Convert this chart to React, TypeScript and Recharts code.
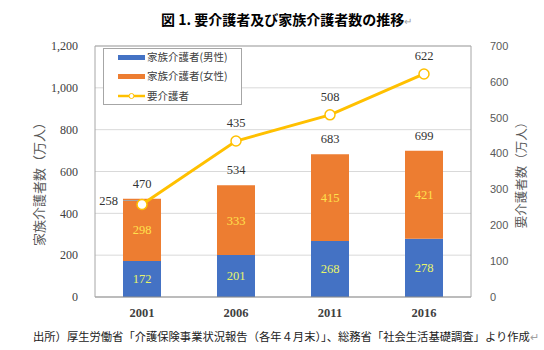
import React from 'react';
import {
  ComposedChart,
  Bar,
  Line,
  XAxis,
  YAxis,
  CartesianGrid,
  Legend,
  LabelList,
  ReferenceLine,
} from 'recharts';

// 単位: 万人
const years = ['2001', '2006', '2011', '2016'];
const maleCarers = [172, 201, 268, 278];
const femaleCarers = [298, 333, 415, 421];
const totalCarers = [470, 534, 683, 699];
const careRecipients = [258, 435, 508, 622];
const leftTicks = [0, 200, 400, 600, 800, 1000, 1200];
const rightTicks = [0, 100, 200, 300, 400, 500, 600, 700];

const seriesNames = ['家族介護者(男性)', '家族介護者(女性)', '要介護者'];
const BLUE = '#4472c4';
const ORANGE = '#ed7d31';
const YELLOW = '#ffc000';

const data = years.map((year, i) => ({
  year,
  male: maleCarers[i],
  female: femaleCarers[i],
  total: totalCarers[i],
  recipients: careRecipients[i],
}));

const SERIF = '"Liberation Serif", "DejaVu Serif", serif';
const JP = '"Noto Sans CJK JP", "Noto Sans", sans-serif';

const TotalLabel = (props: any) => {
  const { x, y, width, value } = props;
  return (
    <text x={x + width / 2} y={y - 11} textAnchor="middle" fontSize={12.5} fontFamily={SERIF} fill="#333">
      {value}
    </text>
  );
};

const RecipientLabel = (props: any) => {
  const { x, y, value, index } = props;
  if (index === 0) {
    return (
      <g>
        <line x1={x - 19} y1={y - 4} x2={x - 4} y2={y - 4} stroke="#a6a6a6" strokeWidth={1} />
        <text x={x - 24} y={y + 1} textAnchor="end" fontSize={12.5} fontFamily={SERIF} fill="#333">
          {value}
        </text>
      </g>
    );
  }
  return (
    <text x={x} y={y - 14} textAnchor="middle" fontSize={12.5} fontFamily={SERIF} fill="#333">
      {value}
    </text>
  );
};

const ChartLegend = () => (
  <div
    style={{
      width: 139,
      height: 57,
      boxSizing: 'border-box',
      border: '1px solid #a6a6a6',
      background: '#fff',
      position: 'relative',
      fontFamily: JP,
      fontSize: 10.5,
      color: '#404040',
    }}
  >
    {seriesNames.map((name, i) => {
      const cy = [8, 27, 47][i];
      return (
        <div key={name} style={{ position: 'absolute', left: 0, top: cy - 8, height: 16, width: 139 }}>
          {i < 2 ? (
            <div
              style={{
                position: 'absolute',
                left: 14,
                top: 6,
                width: 27,
                height: 5,
                background: i === 0 ? BLUE : ORANGE,
              }}
            />
          ) : (
            <svg style={{ position: 'absolute', left: 14, top: 3 }} width={27} height={10}>
              <line x1={0} y1={5} x2={27} y2={5} stroke={YELLOW} strokeWidth={2.5} />
              <circle cx={13.5} cy={5} r={2.5} fill="#fff" stroke={YELLOW} strokeWidth={1} />
            </svg>
          )}
          <span style={{ position: 'absolute', left: 43, top: 0, lineHeight: '16px', whiteSpace: 'nowrap' }}>
            {name}
          </span>
        </div>
      );
    })}
  </div>
);

export default function App() {
  return (
    <div style={{ position: 'absolute', left: 0, top: 0, width: 544, height: 350, background: '#fff' }}>
      <ComposedChart width={544} height={350} data={data} margin={{ top: 46, right: 0, bottom: 0, left: 0 }}>
        <CartesianGrid yAxisId="left" vertical={false} stroke="#d9d9d9" />
        <XAxis
          dataKey="year"
          height={53}
          tickLine={false}
          axisLine={{ stroke: '#8c8c8c' }}
          tickMargin={5}
          tick={{ fill: '#404040', fontSize: 12.5, fontFamily: SERIF, fontWeight: 'bold' }}
        />
        <YAxis
          yAxisId="left"
          width={95}
          domain={[0, 1200]}
          ticks={leftTicks}
          tickLine={false}
          axisLine={{ stroke: '#a6a6a6' }}
          tickMargin={11}
          tickFormatter={(v: number) => v.toLocaleString('en-US')}
          tick={{ fill: '#404040', fontSize: 12, fontFamily: SERIF }}
          label={{
            content: () => (
              <text
                x={38}
                y={181}
                transform="rotate(-90 38 181)"
                textAnchor="middle"
                dominantBaseline="central"
                fontSize={13}
                fontFamily={JP}
                fill="#595959"
              >
                家族介護者数（万人）
              </text>
            ),
          }}
        />
        <YAxis
          yAxisId="right"
          orientation="right"
          width={73}
          domain={[0, 700]}
          ticks={rightTicks}
          tickLine={false}
          axisLine={{ stroke: '#a6a6a6' }}
          tickMargin={13}
          tick={{ fill: '#595959', fontSize: 11, fontFamily: '"Liberation Sans", sans-serif' }}
          label={{
            content: () => (
              <text
                x={520}
                y={172}
                transform="rotate(-90 520 172)"
                textAnchor="middle"
                dominantBaseline="central"
                fontSize={12.5}
                fontFamily={JP}
                fill="#595959"
              >
                要介護者数（万人）
              </text>
            ),
          }}
        />
        <ReferenceLine yAxisId="left" y={1200} stroke="#a6a6a6" />
        <Legend
          layout="vertical"
          align="center"
          verticalAlign="middle"
          wrapperStyle={{ left: 103, top: 48, width: 139, height: 57 }}
          content={() => <ChartLegend />}
        />
        <Bar yAxisId="left" dataKey="male" name={seriesNames[0]} stackId="carers" fill={BLUE} barSize={38} isAnimationActive={false}>
          <LabelList dataKey="male" position="center" fill="#e8f56a" fontSize={12.5} fontFamily={SERIF} />
        </Bar>
        <Bar yAxisId="left" dataKey="female" name={seriesNames[1]} stackId="carers" fill={ORANGE} barSize={38} isAnimationActive={false}>
          <LabelList dataKey="female" position="center" fill="#ffe14d" fontSize={12.5} fontFamily={SERIF} />
          <LabelList dataKey="total" content={TotalLabel} />
        </Bar>
        <Line
          yAxisId="right"
          dataKey="recipients"
          name={seriesNames[2]}
          stroke={YELLOW}
          strokeWidth={3}
          dot={{ r: 5, fill: '#fff', stroke: YELLOW, strokeWidth: 1.5 }}
          isAnimationActive={false}
        >
          <LabelList dataKey="recipients" content={RecipientLabel} />
        </Line>
      </ComposedChart>
      <svg width={544} height={350} style={{ position: 'absolute', left: 0, top: 0, pointerEvents: 'none' }}>
        <text x={161} y={25} fontSize={14} fontWeight="bold" fontFamily={JP} fill="#000">
          図 1. 要介護者及び家族介護者数の推移
          <tspan fontSize={10} fontWeight="normal" fill="#a0a0a0">↵</tspan>
        </text>
        <text x={33} y={341} fontSize={11.3} fontFamily={JP} fill="#222">
          出所）厚生労働省「介護保険事業状況報告（各年４月末）」、総務省「社会生活基礎調査」より作成
          <tspan fill="#a0a0a0">↵</tspan>
        </text>
      </svg>
    </div>
  );
}
